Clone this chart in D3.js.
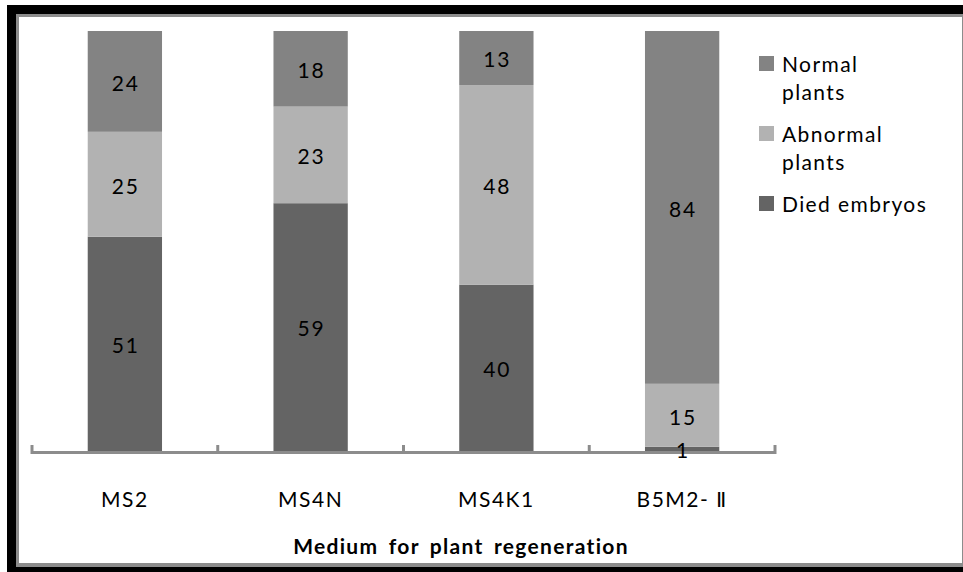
<!DOCTYPE html>
<html>
<head>
<meta charset="utf-8">
<script src="https://cdn.jsdelivr.net/npm/d3@7"></script>
<style>
  html, body { margin: 0; padding: 0; background: #fff; }
  svg { display: block; }
  text { font-family: Lato, "Open Sans", "Liberation Sans", sans-serif; }
</style>
</head>
<body>
<svg id="chart" width="963" height="572"></svg>
<script>
// Regeneration media and the outcome (%) of embryos on each
const categories = ["MS2", "MS4N", "MS4K1", "B5M2- \u2161"];
const diedEmbryos   = [51, 59, 40, 1];
const abnormalPlants = [25, 23, 48, 15];
const normalPlants   = [24, 18, 13, 84];
const seriesKeys = ["died", "abnormal", "normal"];
const seriesColors = ["#646464", "#b2b2b2", "#838383"];
const legendLines = [["Normal", "plants"], ["Abnormal", "plants"], ["Died embryos"]];
const xTitle = "Medium for plant regeneration";

const rows = categories.map((c, i) => ({
  cat: c, died: diedEmbryos[i], abnormal: abnormalPlants[i], normal: normalPlants[i]
}));

const svg = d3.select("#chart");

// Frame: black outer edge with a thin grey inner line
svg.append("rect").attr("x", 7).attr("y", 5).attr("width", 956).attr("height", 567).attr("fill", "#000");
svg.append("rect").attr("x", 16).attr("y", 14).attr("width", 947).attr("height", 553).attr("fill", "#8c8c8c");
svg.append("rect").attr("x", 19).attr("y", 17).attr("width", 943).attr("height", 546).attr("fill", "#fff");

const plot = { left: 32, right: 775, top: 31, bottom: 451 };

const x = d3.scaleBand().domain(categories)
  .range([plot.left, plot.right]).paddingInner(0.6).paddingOuter(0.3);
const y = d3.scaleLinear().domain([0, 1]).range([plot.bottom, plot.top]);
const color = d3.scaleOrdinal().domain(seriesKeys).range(seriesColors);

const stacked = d3.stack().keys(seriesKeys).offset(d3.stackOffsetExpand)(rows);

const layers = svg.append("g").selectAll("g").data(stacked).join("g")
  .attr("fill", d => color(d.key));

layers.selectAll("rect").data(d => d.map(p => ({ p, key: d.key }))).join("rect")
  .attr("x", d => x(d.p.data.cat))
  .attr("width", x.bandwidth())
  .attr("y", d => y(d.p[1]))
  .attr("height", d => y(d.p[0]) - y(d.p[1]));

// Category axis: grey baseline with upward ticks at band boundaries
const axisG = svg.append("g");
axisG.append("line")
  .attr("x1", plot.left).attr("x2", plot.right)
  .attr("y1", plot.bottom + 1.5).attr("y2", plot.bottom + 1.5)
  .attr("stroke", "#8c8c8c").attr("stroke-width", 3);
const bounds = categories.map((c, i) => i === 0 ? plot.left : x(c) - x.step() * x.paddingInner() / 2);
bounds.push(plot.right);
axisG.selectAll("line.tick").data(bounds).join("line")
  .attr("class", "tick")
  .attr("x1", d => d).attr("x2", d => d)
  .attr("y1", plot.bottom - 6).attr("y2", plot.bottom + 3)
  .attr("stroke", "#8c8c8c").attr("stroke-width", 3);

axisG.selectAll("text.cat").data(categories).join("text")
  .attr("class", "cat")
  .attr("x", d => x(d) + x.bandwidth() / 2)
  .attr("y", 507)
  .attr("text-anchor", "middle")
  .attr("font-size", 21)
  .attr("letter-spacing", 1.5)
  .attr("fill", "#000")
  .text(d => d);

svg.append("text")
  .attr("x", 461).attr("y", 554)
  .attr("text-anchor", "middle")
  .attr("font-size", 21)
  .attr("font-weight", "bold")
  .attr("letter-spacing", 1.3)
  .attr("word-spacing", 4)
  .attr("fill", "#000")
  .text(xTitle);

// Value labels centred in each segment, drawn above the axis
const labels = svg.append("g").selectAll("g").data(stacked).join("g");
labels.selectAll("text").data(d => d.map(p => ({ p, key: d.key }))).join("text")
  .attr("x", d => x(d.p.data.cat) + x.bandwidth() / 2 + 1)
  .attr("y", d => (y(d.p[0]) + y(d.p[1])) / 2 + 4)
  .attr("text-anchor", "middle")
  .attr("dominant-baseline", "middle")
  .attr("fill", "#000")
  .attr("font-size", 21)
  .attr("letter-spacing", 2)
  .text(d => d.p.data[d.key]);

// Legend (top to bottom: Normal, Abnormal, Died)
const legendOrder = ["normal", "abnormal", "died"];
const legendTops = [56, 126, 196];
const legend = svg.append("g");
legendOrder.forEach((k, i) => {
  legend.append("rect")
    .attr("x", 759).attr("y", legendTops[i]).attr("width", 15).attr("height", 15)
    .attr("fill", color(k));
  const t = legend.append("text")
    .attr("x", 782).attr("y", legendTops[i] + 16)
    .attr("font-size", 21).attr("letter-spacing", 1.4).attr("fill", "#000");
  legendLines[i].forEach((line, j) => {
    t.append("tspan").attr("x", 782).attr("dy", j === 0 ? 0 : 28).text(line);
  });
});
</script>
</body>
</html>
